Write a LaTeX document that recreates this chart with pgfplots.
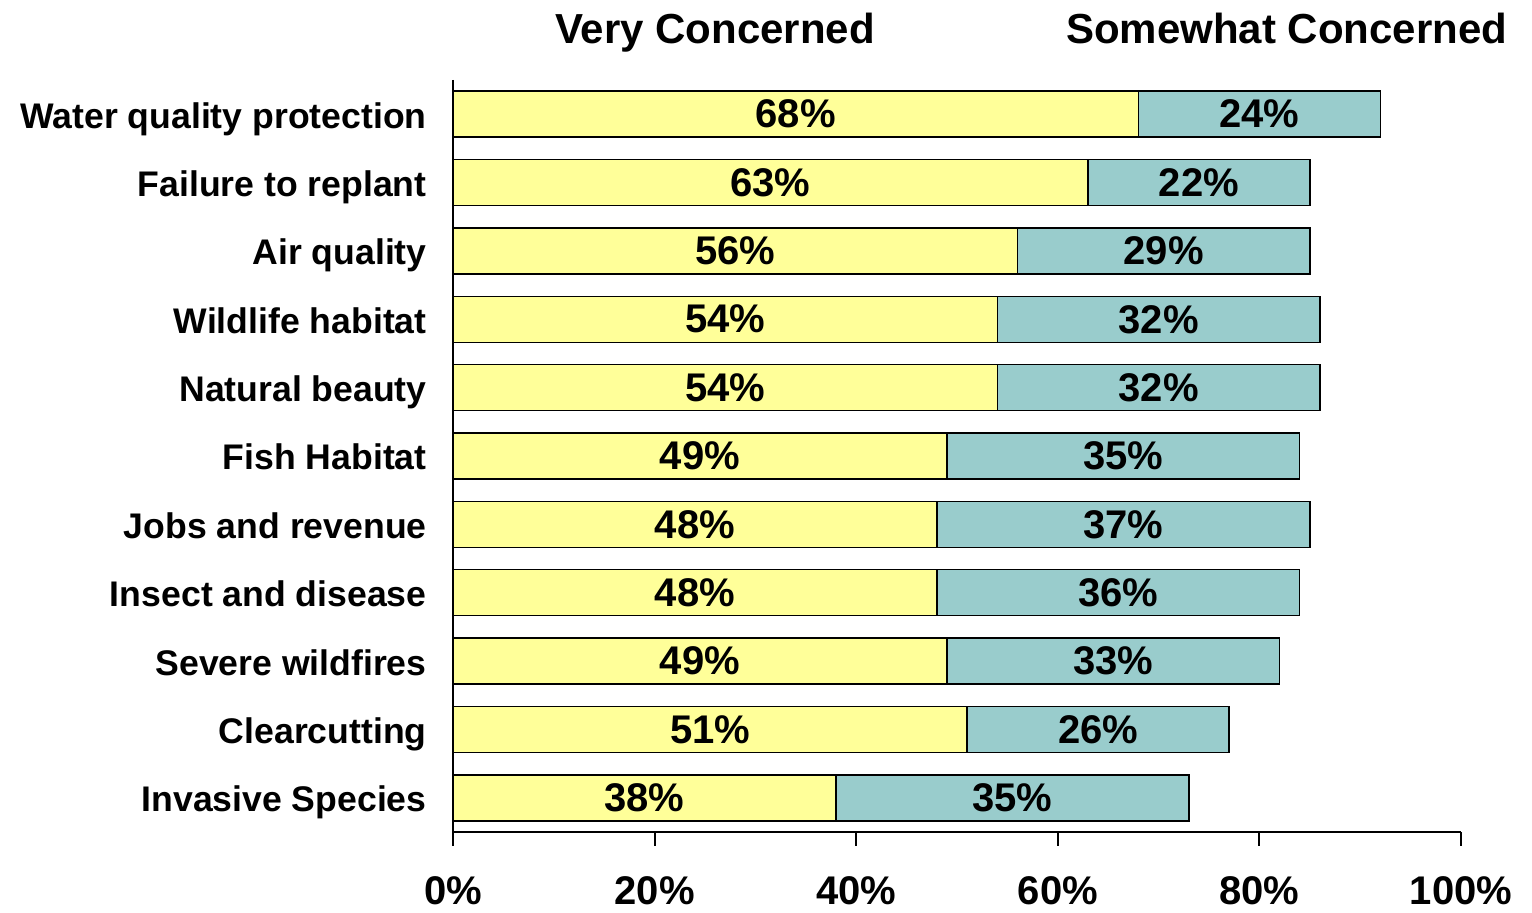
\documentclass[border=0pt]{standalone}
\usepackage{pgfplots}
\pgfplotsset{compat=1.18}
\usepackage{pgfplotstable}
\usepackage{fontspec}
\setmainfont{Liberation Sans}
\definecolor{vyellow}{HTML}{FFFF99}
\definecolor{steal}{HTML}{99CCCC}
\pgfplotstableread{
y v1 v2
0 68 24
1 63 22
2 56 29
3 54 32
4 54 32
5 49 35
6 48 37
7 48 36
8 49 33
9 51 26
10 38 35
}\datatab
\begin{document}
\begin{tikzpicture}
\begin{axis}[
  name=ax,
  scale only axis,
  width=504pt, height=376pt,
  xbar stacked,
  bar width=23pt,
  xmin=0, xmax=100,
  ymin=-0.5, ymax=10.5,
  y dir=reverse,
  axis lines*=left,
  axis line style={line width=1pt},
  tick align=outside,
  major tick length=7pt,
  every tick/.style={black, line width=1pt},
  xtick={0,20,40,60,80,100},
  xticklabels={0\%,20\%,40\%,60\%,80\%,100\%},
  xticklabel style={font=\fontsize{20}{24}\selectfont\bfseries, anchor=base, yshift=-29.5pt},
  ytick={0,...,10},
  yticklabels={Water quality protection,Failure to replant,Air quality,Wildlife habitat,Natural beauty,Fish Habitat,Jobs and revenue,Insect and disease,Severe wildfires,Clearcutting,Invasive Species},
  yticklabel style={font=\fontsize{17.8}{21}\selectfont\bfseries, inner sep=0pt, anchor=base east, xshift=-6pt, yshift=-7pt},
  ytick style={draw=none},
  extra y ticks={-0.5,0.5,1.5,2.5,3.5,4.5,5.5,6.5,7.5,8.5,9.5,10.5},
  extra y tick labels={},
  extra y tick style={major tick length=5pt, tick style={draw=black, line width=1pt}},
  clip=false,
  nodes near coords={\pgfmathprintnumber[fixed,precision=0,assume math mode=true]{\segval}\%},
  every node near coord/.append style={font=\fontsize{20}{24}\selectfont\bfseries, anchor=center},
]
\addplot[fill=vyellow, draw=black, line width=0.75pt,
  visualization depends on={\thisrow{v1} \as \segval}]
  table[x=v1, y=y] {\datatab};
\addplot[fill=steal, draw=black, line width=0.75pt,
  visualization depends on={\thisrow{v2} \as \segval}]
  table[x=v2, y=y] {\datatab};
\node[font=\fontsize{21}{25}\selectfont\bfseries, anchor=base] at (axis description cs:0.26,1) [yshift=18pt] {Very Concerned};
\node[font=\fontsize{21}{25}\selectfont\bfseries, anchor=base] at (axis description cs:0.827,1) [yshift=18pt] {Somewhat Concerned};
\end{axis}
\pgfresetboundingbox
\path (ax.south west) ++(-226.5pt,-40.5pt) rectangle ++(766pt,456.5pt);
\end{tikzpicture}
\end{document}
